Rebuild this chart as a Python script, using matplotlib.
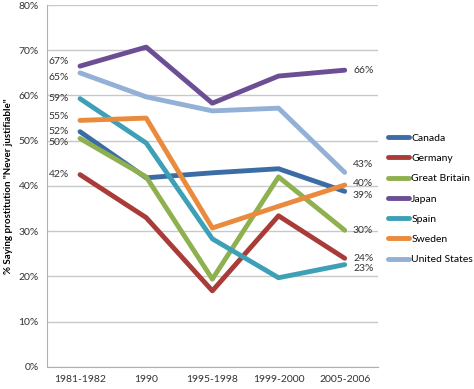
import numpy as np
import matplotlib.pyplot as plt

plt.rcParams['font.family'] = ['Lato', 'DejaVu Sans']

# Data
periods = ['1981-1982', '1990', '1995-1998', '1999-2000', '2005-2006']
countries = ['Canada', 'Germany', 'Great Britain', 'Japan', 'Spain', 'Sweden', 'United States']
canada = [52.0, 41.8, 42.9, 43.8, 38.8]
germany = [42.5, 33.0, 16.8, 33.4, 24.0]
great_britain = [50.5, 42.0, 19.4, 42.0, 30.2]
japan = [66.5, 70.7, 58.3, 64.3, 65.6]
spain = [59.3, 49.5, 28.3, 19.7, 22.6]
sweden = [54.5, 55.0, 30.7, 35.5, 40.2]
united_states = [65.0, 59.7, 56.6, 57.2, 43.0]
start_labels = ['52%', '42%', '50%', '67%', '59%', '55%', '65%']
end_labels = ['39%', '24%', '30%', '66%', '23%', '40%', '43%']

series = [canada, germany, great_britain, japan, spain, sweden, united_states]
colors = ['#3b6ca6', '#a93c38', '#8fb04f', '#6b4e94', '#3ea0b7', '#e98a3c', '#93b0d6']
# label nudges in points (start, end) so the labels don't collide
start_dy = [0, 0, -3, 3, 0, 3, -3]
end_dy = [-3, 0, 0, 0, -3, 1, 6]

fig = plt.figure(figsize=(4.74, 3.89), dpi=100)
ax = fig.add_axes([0.099, 0.057, 0.698, 0.930])

x = np.arange(len(periods))
for vals, name, c in zip(series, countries, colors):
    ax.plot(x, vals, color=c, linewidth=3.5, label=name, solid_capstyle='round')

for vals, sl, el, c, sdy, edy in zip(series, start_labels, end_labels, colors, start_dy, end_dy):
    ax.annotate(sl, (x[0], vals[0]), xytext=(-8, sdy), textcoords='offset points',
                ha='right', va='center', fontsize=7.5, color='#333333')
    ax.annotate(el, (x[-1], vals[-1]), xytext=(6, edy), textcoords='offset points',
                ha='left', va='center', fontsize=7.5, color='#333333')

ax.set_xlim(-0.5, len(periods) - 0.5)
ax.set_ylim(0, 80)
ax.set_yticks(np.arange(0, 81, 10))
ax.set_yticklabels([f'{v}%' for v in range(0, 81, 10)])
ax.set_xticks(x)
ax.set_xticklabels(periods)
ax.tick_params(axis='both', labelsize=7.5, colors='#333333', length=0)
ax.tick_params(axis='y', pad=6)
ax.tick_params(axis='x', pad=6)
ax.yaxis.grid(True, color='#c8c8c8', linewidth=1)
ax.set_axisbelow(True)
for s in ['top', 'right']:
    ax.spines[s].set_visible(False)
ax.spines['left'].set_color('#b0b0b0')
ax.spines['bottom'].set_color('#b0b0b0')
ax.set_ylabel('% Saying prostitution "Never justifiable"', fontsize=7, fontweight='bold')

ax.legend(loc='upper left', bbox_to_anchor=(1.01, 0.665), frameon=False, fontsize=7.5,
          handlelength=2.0, handletextpad=0.2, labelspacing=1.05, borderaxespad=0.3)

fig.savefig('out.png', dpi=100)
